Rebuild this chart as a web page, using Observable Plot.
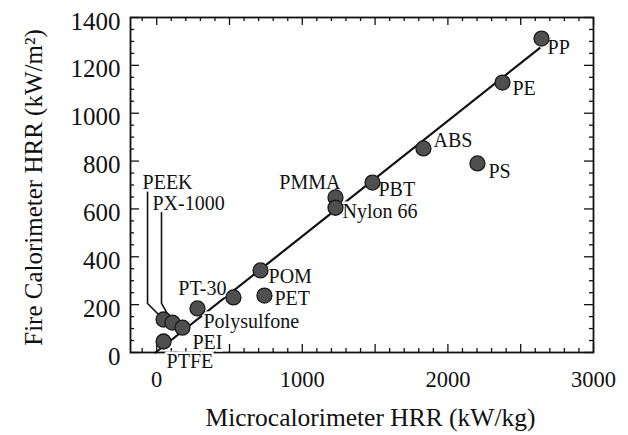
<!DOCTYPE html>
<html><head><meta charset="utf-8">
<script src="https://cdn.jsdelivr.net/npm/d3@7"></script>
<script src="https://cdn.jsdelivr.net/npm/@observablehq/plot@0.6"></script>
<style>
html,body{margin:0;padding:0;background:#fff;}
#chart svg{display:block;}
</style>
</head><body><div id="chart"></div>
<script>
// ---- data ----
const polymers = ["PEEK","PX-1000","PEI","PTFE","Polysulfone","PT-30","POM","PET","PMMA","Nylon 66","PBT","ABS","PS","PE","PP"];
const microHRR = [47, 108, 177, 47, 280, 527, 713, 740, 1228, 1228, 1482, 1832, 2203, 2375, 2643];
const fireHRR  = [138, 125, 104, 46, 184, 230, 343, 238, 648, 605, 710, 853, 790, 1128, 1312];
// fitted correlation line
const fitMicro = [-8, 2630];
const fitFire  = [0, 1272];
// leader lines for the two crowded labels
const leaderNames = ["PEEK", "PX-1000"];
const leaderMicro = [-63, 33];
const leaderTopFire = [685, 585];
const leaderBendFire = [205, 205];
// tick labels
const xTickLabels = [0, 1000, 2000, 3000];
const yTickLabels = [0, 200, 400, 600, 800, 1000, 1200, 1400];
const xLabel = "Microcalorimeter HRR (kW/kg)";
const yLabel = "Fire Calorimeter HRR (kW/m²)";

// ---- styling ----
const ink = "#111";
const labelOffsets = {
  "PEEK": {dx: -21, dy: -137, anchor: "start"},
  "PX-1000": {dx: -20, dy: -119, anchor: "start"},
  "PEI": {dx: 10, dy: 15, anchor: "start"},
  "PTFE": {dx: 3, dy: 20, anchor: "start"},
  "Polysulfone": {dx: 6, dy: 13, anchor: "start"},
  "PT-30": {dx: -7, dy: -9, anchor: "end"},
  "POM": {dx: 8, dy: 6, anchor: "start"},
  "PET": {dx: 10, dy: 3, anchor: "start"},
  "PMMA": {dx: 5, dy: -15, anchor: "end"},
  "Nylon 66": {dx: 7, dy: 4, anchor: "start"},
  "PBT": {dx: 6, dy: 7, anchor: "start"},
  "ABS": {dx: 10, dy: -8, anchor: "start"},
  "PS": {dx: 11, dy: 8, anchor: "start"},
  "PE": {dx: 10, dy: 6, anchor: "start"},
  "PP": {dx: 6, dy: 9, anchor: "start"}
};

const pts = polymers.map((name, i) => ({name, x: microHRR[i], y: fireHRR[i]}));
const fit = fitMicro.map((x, i) => ({x, y: fitFire[i]}));
const leaders = leaderNames.flatMap((name, i) => {
  const p = pts.find(d => d.name === name);
  return [
    {name, x: leaderMicro[i], y: leaderTopFire[i]},
    {name, x: leaderMicro[i], y: leaderBendFire[i]},
    {name, x: p.x, y: p.y}
  ];
});

const W = 628, H = 435, mL = 130, mR = 35, mT = 17, mB = 83;
const fw = W - mL - mR, fh = H - mT - mB;

const xMinor = d3.range(-100, 3001, 100).filter(d => d % 500 !== 0);
const xMajor = d3.range(0, 3001, 500);
const yMinor = d3.range(0, 1401, 50).filter(d => d % 200 !== 0);
const yMajor = d3.range(0, 1401, 200);

const tickStyle = {stroke: ink, strokeWidth: 1.3};

const labelMarks = pts.map(p => {
  const o = labelOffsets[p.name];
  return Plot.text([p], {x: "x", y: "y", text: "name", dx: o.dx, dy: o.dy, textAnchor: o.anchor,
    fontSize: 20, fill: ink, stroke: "white", strokeWidth: 5, paintOrder: "stroke"});
});

const chart = Plot.plot({
  width: W, height: H,
  marginLeft: mL, marginRight: mR, marginTop: mT, marginBottom: mB,
  style: {fontFamily: "'Liberation Serif', 'Times New Roman', serif", background: "white", color: ink},
  x: {domain: [-180, 3000]},
  y: {domain: [0, 1400]},
  marks: [
    Plot.line(fit, {x: "x", y: "y", stroke: ink, strokeWidth: 2.2}),
    Plot.line(leaders, {x: "x", y: "y", z: "name", stroke: ink, strokeWidth: 1.6}),
    Plot.frame({stroke: ink, strokeWidth: 1.8}),
    // inward ticks, bottom & top
    Plot.ruleX(xMinor, {x: d => d, insetTop: fh - 4, ...tickStyle}),
    Plot.ruleX(xMajor, {x: d => d, insetTop: fh - 8, ...tickStyle}),
    Plot.ruleX(xMinor, {x: d => d, insetBottom: fh - 4, ...tickStyle}),
    Plot.ruleX(xMajor, {x: d => d, insetBottom: fh - 8, ...tickStyle}),
    // inward ticks, left & right
    Plot.ruleY(yMinor, {y: d => d, insetRight: fw - 4, ...tickStyle}),
    Plot.ruleY(yMajor, {y: d => d, insetRight: fw - 9, ...tickStyle}),
    Plot.ruleY(yMinor, {y: d => d, insetLeft: fw - 4, ...tickStyle}),
    Plot.ruleY(yMajor, {y: d => d, insetLeft: fw - 9, ...tickStyle}),
    Plot.axisX({ticks: xTickLabels, tickSize: 0, tickPadding: 19, fontSize: 22.5, tickFormat: "d", label: null, fill: ink}),
    Plot.axisY({ticks: yTickLabels, tickSize: 0, tickPadding: 10, fontSize: 25, dy: 4, tickFormat: "d", label: null, fill: ink}),
    Plot.text([xLabel], {frameAnchor: "bottom", textAnchor: "middle", lineAnchor: "middle", dx: 8.5, dy: 65, fontSize: 25.5, fill: ink}),
    Plot.text([yLabel], {frameAnchor: "left", textAnchor: "middle", lineAnchor: "middle", dx: -97, dy: 2.5, rotate: -90, fontSize: 25, fill: ink}),
    ...labelMarks,
    Plot.dot(pts, {x: "x", y: "y", r: 7.5, fill: "#4f4f4f", stroke: "#1a1a1a", strokeWidth: 1.3})
  ]
});
document.getElementById("chart").appendChild(chart);
</script>
</body></html>
